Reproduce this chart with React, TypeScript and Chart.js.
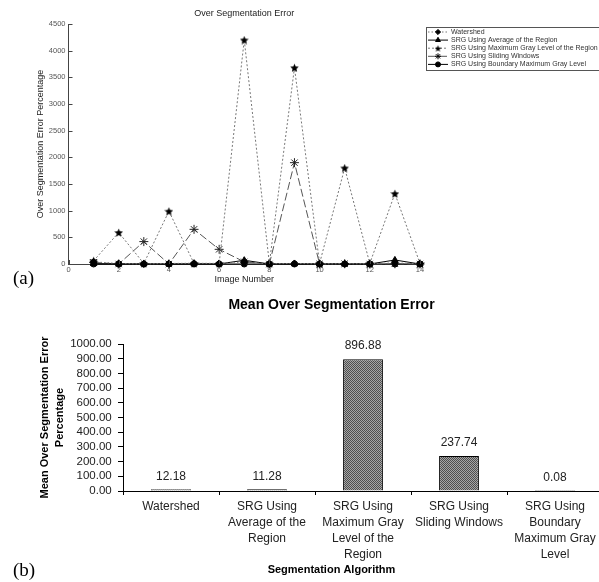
import React, { useEffect, useRef } from 'react';
import { Chart, registerables } from 'chart.js';
import { drawPoint } from 'chart.js/helpers';

Chart.register(...registerables);

// ---------- (a) line chart data ----------
const imageNumbers = [1, 2, 3, 4, 5, 6, 7, 8, 9, 10, 11, 12, 13, 14];
const watershed = [40, 10, 2, 10, 15, 10, 30, 5, 10, 3, 5, 5, 20, 5];
const srgAverage = [5, 1, 1, 1, 1, 1, 70, 1, 1, 1, 0, 0, 75, 0];
const srgMaxGray = [60, 590, 10, 990, 10, 10, 4200, 10, 3680, 10, 1800, 10, 1320, 10];
const srgSliding = [30, 0, 420, 0, 650, 275, 40, 0, 1900, 0, 5, 0, 5, 0];
const srgBoundary = [0.2, 0, 0, 0, 0, 0, 0, 0, 0, 0, 0, 0, 0, 0.9];
const lineSeriesNames = [
  'Watershed',
  'SRG Using Average of the Region',
  'SRG Using Maximum Gray Level of the Region',
  'SRG Using Sliding Windows',
  'SRG Using Boundary Maximum Gray Level',
];

// ---------- (b) bar chart data ----------
const barCategories = [
  ['Watershed'],
  ['SRG Using', 'Average of the', 'Region'],
  ['SRG Using', 'Maximum Gray', 'Level of the', 'Region'],
  ['SRG Using', 'Sliding Windows'],
  ['SRG Using', 'Boundary', 'Maximum Gray', 'Level'],
];
const barValues = [12.18, 11.28, 896.88, 237.74, 0.08];

const FONT = "Arial, 'Liberation Sans', sans-serif";

function makeStar(size: number, color: string) {
  const c = document.createElement('canvas');
  c.width = size;
  c.height = size;
  const g = c.getContext('2d')!;
  const cx = size / 2, cy = size / 2 + 0.5, R = size / 2, r = R * 0.45;
  g.beginPath();
  for (let i = 0; i < 10; i++) {
    const a = -Math.PI / 2 + (i * Math.PI) / 5;
    const rad = i % 2 === 0 ? R : r;
    g.lineTo(cx + rad * Math.cos(a), cy + rad * Math.sin(a));
  }
  g.closePath();
  g.fillStyle = color;
  g.fill();
  return c;
}

export default function App() {
  const topRef = useRef<HTMLCanvasElement>(null);
  const botRef = useRef<HTMLCanvasElement>(null);

  useEffect(() => {
    const star = makeStar(9, '#000');
    const starSmall = makeStar(7, '#000');

    const seriesValues = [watershed, srgAverage, srgMaxGray, srgSliding, srgBoundary];
    const styles: any[] = [
      { borderColor: '#777', borderDash: [1.5, 2], pointStyle: 'rectRot', pointRadius: 3.5, legendStyle: 'rectRot', legendRadius: 2.6 },
      { borderColor: '#000', borderDash: [], pointStyle: 'triangle', pointRadius: 3.6, legendStyle: 'triangle', legendRadius: 2.8 },
      { borderColor: '#777', borderDash: [2, 2], pointStyle: star, pointRadius: 4.5, legendStyle: starSmall, legendRadius: 3 },
      { borderColor: '#555', borderDash: [8, 3], pointStyle: 'star', pointRadius: 4.5, legendStyle: 'star', legendRadius: 3 },
      { borderColor: '#000', borderDash: [], pointStyle: 'circle', pointRadius: 3, legendStyle: 'circle', legendRadius: 2.5 },
    ];

    const datasets = seriesValues.map((vals, i) => ({
      label: lineSeriesNames[i],
      data: vals.map((v, j) => ({ x: imageNumbers[j], y: v })),
      borderColor: styles[i].borderColor,
      borderDash: styles[i].borderDash,
      borderWidth: 1,
      pointStyle: styles[i].pointStyle,
      pointRadius: styles[i].pointRadius,
      pointBackgroundColor: '#000',
      pointBorderColor: i === 3 ? '#222' : '#000',
      pointBorderWidth: 1,
      tension: 0,
      fill: false,
      clip: false as any,
    }));

    const boxLegend = {
      id: 'boxLegend',
      afterDraw(chart: any) {
        const ctx = chart.ctx;
        ctx.save();
        ctx.fillStyle = '#fff';
        ctx.fillRect(426.5, 27.5, 220, 43);
        ctx.strokeStyle = '#555';
        ctx.lineWidth = 1;
        ctx.setLineDash([]);
        ctx.strokeRect(426.5, 27.5, 220, 43);
        chart.data.datasets.forEach((ds: any, i: number) => {
          const y = 32 + i * 8.1;
          ctx.strokeStyle = ds.borderColor;
          ctx.setLineDash(ds.borderDash || []);
          ctx.beginPath();
          ctx.moveTo(428, y);
          ctx.lineTo(448, y);
          ctx.stroke();
          ctx.setLineDash([]);
          ctx.fillStyle = '#000';
          ctx.strokeStyle = '#000';
          drawPoint(ctx, { pointStyle: styles[i].legendStyle, radius: styles[i].legendRadius, rotation: 0, borderWidth: 1 } as any, 438, y);
          ctx.fillStyle = '#333';
          ctx.font = `7px ${FONT}`;
          ctx.textBaseline = 'middle';
          ctx.textAlign = 'left';
          ctx.fillText(ds.label, 451, y);
        });
        ctx.restore();
      },
    };

    const innerTicks = {
      id: 'innerTicks',
      afterDraw(chart: any) {
        const { ctx, chartArea, scales } = chart;
        ctx.save();
        ctx.strokeStyle = '#444';
        ctx.lineWidth = 1;
        ctx.beginPath();
        scales.y.ticks.forEach((t: any) => {
          const py = Math.round(scales.y.getPixelForValue(t.value)) + 0.5;
          ctx.moveTo(chartArea.left, py);
          ctx.lineTo(chartArea.left + 4, py);
        });
        scales.x.ticks.forEach((t: any) => {
          const px = Math.round(scales.x.getPixelForValue(t.value)) + 0.5;
          ctx.moveTo(px, chartArea.bottom);
          ctx.lineTo(px, chartArea.bottom - 4);
        });
        ctx.stroke();
        ctx.restore();
      },
    };

    const top = new Chart(topRef.current!, {
      type: 'line',
      data: { datasets: datasets as any },
      plugins: [innerTicks, boxLegend],
      options: {
        animation: false,
        responsive: false,
        maintainAspectRatio: false,
        layout: { padding: { left: 0, right: 179, top: 0, bottom: 0 } },
        plugins: {
          legend: { display: false },
          tooltip: { enabled: false },
          title: {
            display: true,
            text: 'Over Segmentation Error',
            fullSize: false,
            color: '#222',
            font: { size: 9, family: FONT, weight: 'normal' },
            padding: { top: 8.6, bottom: 4.6 },
          },
        },
        scales: {
          x: {
            type: 'linear',
            min: 0,
            max: 14,
            ticks: { stepSize: 2, color: '#555', font: { size: 7.5, family: FONT }, padding: 1.5, maxRotation: 0, autoSkip: false, callback: (v: any) => String(v) },
            grid: { display: false, drawTicks: false },
            border: { display: true, color: '#444', width: 1 },
            title: {
              display: true,
              text: 'Image Number',
              color: '#222',
              font: { size: 9, family: FONT },
              padding: { top: 0, bottom: 4.6 },
            },
            afterFit: (s: any) => { s.height = 26; },
          },
          y: {
            type: 'linear',
            min: 0,
            max: 4500,
            ticks: { stepSize: 500, color: '#555', font: { size: 7.5, family: FONT }, padding: 3, autoSkip: false, callback: (v: any) => String(v) },
            grid: { display: false, drawTicks: false },
            border: { display: true, color: '#444', width: 1 },
            title: {
              display: true,
              text: 'Over Segmentation Error Percentage',
              color: '#222',
              font: { size: 9, family: FONT },
              padding: { top: 35.6, bottom: 0 },
            },
            afterFit: (s: any) => { s.width = 68.5; },
          },
        },
      } as any,
    });

    // ---- bar chart ----
    const pc = document.createElement('canvas');
    pc.width = 2;
    pc.height = 2;
    const pg = pc.getContext('2d')!;
    pg.fillStyle = '#a6a6a6';
    pg.fillRect(0, 0, 2, 2);
    pg.fillStyle = '#4e4e4e';
    pg.fillRect(0, 0, 1, 1);
    pg.fillRect(1, 1, 1, 1);
    const bctx = botRef.current!.getContext('2d')!;
    const pattern = bctx.createPattern(pc, 'repeat');

    const valueLabels = {
      id: 'valueLabels',
      afterDatasetsDraw(chart: any) {
        const ctx = chart.ctx;
        const meta = chart.getDatasetMeta(0);
        ctx.save();
        ctx.fillStyle = '#222';
        ctx.font = `12px ${FONT}`;
        ctx.textAlign = 'center';
        ctx.textBaseline = 'middle';
        meta.data.forEach((bar: any, i: number) => {
          ctx.fillText(barValues[i].toFixed(2), bar.x, bar.y - 13);
        });
        ctx.restore();
      },
    };

    const bot = new Chart(botRef.current!, {
      type: 'bar',
      data: {
        labels: barCategories as any,
        datasets: [
          {
            data: barValues,
            backgroundColor: pattern as any,
            borderColor: '#000',
            borderWidth: 1,
            barPercentage: 0.415,
            categoryPercentage: 1,
          },
        ],
      },
      plugins: [valueLabels],
      options: {
        animation: false,
        responsive: false,
        maintainAspectRatio: false,
        layout: { padding: 0 },
        plugins: {
          legend: { display: false },
          tooltip: { enabled: false },
          title: {
            display: true,
            text: 'Mean Over Segmentation Error',
            color: '#000',
            font: { size: 14, weight: 'bold', family: FONT },
            padding: { top: 7.1, bottom: 30.1 },
          },
          subtitle: {
            display: true,
            position: 'bottom',
            text: 'Segmentation Algorithm',
            color: '#000',
            font: { size: 11, weight: 'bold', family: FONT },
            padding: { top: 2, bottom: 5.4 },
          },
        },
        scales: {
          x: {
            type: 'category',
            ticks: {
              color: '#222',
              font: { size: 12, family: FONT, lineHeight: 16 / 12 },
              padding: 3.7,
              maxRotation: 0,
              minRotation: 0,
              autoSkip: false,
            },
            grid: { display: true, drawOnChartArea: false, drawTicks: true, tickLength: 4, color: '#000', offset: true },
            border: { display: true, color: '#000', width: 1 },
            afterFit: (s: any) => { s.height = 70.4; },
          },
          y: {
            type: 'linear',
            min: 0,
            max: 1000,
            ticks: {
              stepSize: 100,
              autoSkip: false,
              color: '#222',
              font: { size: 11.5, family: FONT },
              padding: 6.3,
              callback: (v: any) => Number(v).toFixed(2),
            },
            grid: { display: true, drawOnChartArea: false, drawTicks: true, tickLength: 5, color: '#000' },
            border: { display: true, color: '#000', width: 1 },
            title: {
              display: true,
              text: ['Mean Over Segmentation Error', 'Percentage'],
              color: '#000',
              font: { size: 11, weight: 'bold', family: FONT, lineHeight: 15 / 11 },
              padding: { top: 37, bottom: 0 },
            },
            afterFit: (s: any) => { s.width = 123; },
          },
          yRight: {
            type: 'linear',
            position: 'right',
            display: true,
            ticks: { display: false },
            grid: { display: false, drawTicks: false },
            border: { display: false },
            afterFit: (s: any) => { s.width = 60; },
          },
        },
      } as any,
    });

    return () => {
      top.destroy();
      bot.destroy();
    };
  }, []);

  const panelLabel: React.CSSProperties = {
    position: 'absolute',
    left: 13,
    fontFamily: "'Liberation Serif', 'Times New Roman', serif",
    fontSize: 19,
    lineHeight: '20px',
    color: '#000',
  };

  return (
    <div
      style={{
        position: 'fixed',
        left: 0,
        top: 0,
        width: 599,
        height: 582,
        overflow: 'hidden',
        background: '#fff',
      }}
    >
      <canvas
        ref={topRef}
        width={599}
        height={290}
        style={{ position: 'absolute', left: 0, top: 0, width: 599, height: 290, display: 'block' }}
      />
      <canvas
        ref={botRef}
        width={663}
        height={292}
        style={{ position: 'absolute', left: 0, top: 290, width: 663, height: 292, display: 'block' }}
      />
      <div style={{ ...panelLabel, top: 268 }}>(a)</div>
      <div style={{ ...panelLabel, top: 560 }}>(b)</div>
    </div>
  );
}
